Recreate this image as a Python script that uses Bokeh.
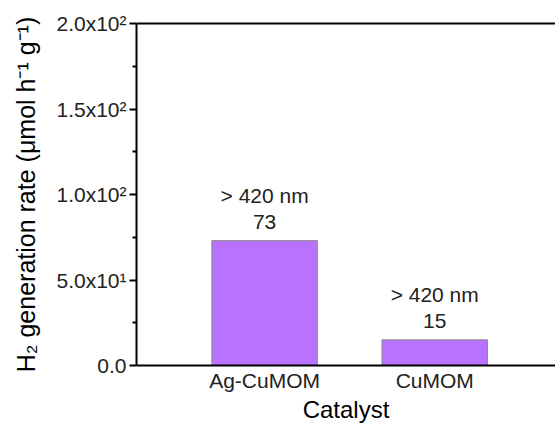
from bokeh.plotting import figure
from bokeh.models import Range1d, FixedTicker, LinearAxis, ColumnDataSource
from bokeh.embed import file_html
from bokeh.resources import INLINE
from bokeh.core.properties import value

# Data
catalysts = ["Ag-CuMOM", "CuMOM"]
rates = [73, 15]
rate_labels = ["73", "15"]
wavelength_labels = ["> 420 nm", "> 420 nm"]
y_ticks = [0, 50, 100, 150, 200]
y_minor_ticks = [25, 75, 125, 175]
y_tick_labels = ["0.0", "5.0x10\u00b9", "1.0x10\u00b2", "1.5x10\u00b2", "2.0x10\u00b2"]

x_pos = [i + 1 for i in range(len(catalysts))]
src = ColumnDataSource(dict(x=x_pos, top=rates, lab=rate_labels, wl=wavelength_labels))

FONT = "Liberation Sans"
p = figure(width=555, height=425, output_backend="svg", toolbar_location=None,
           x_range=Range1d(0.247, 2.71), y_range=Range1d(0, 200),
           min_border_left=136, min_border_top=23, min_border_bottom=59, min_border_right=0)
p.outline_line_color = None
p.grid.visible = False
p.background_fill_color = "white"

p.vbar(x="x", top="top", width=0.62, bottom=0, source=src,
       fill_color="#B872FD", line_color="#888888", line_width=1)

p.text(x="x", y="top", text="lab", source=src, y_offset=-19,
       text_align="center", text_baseline="middle",
       text_font=value(FONT), text_font_size="21px", text_color="#222222")
p.text(x="x", y="top", text="wl", source=src, y_offset=-45,
       text_align="center", text_baseline="middle",
       text_font=value(FONT), text_font_size="21px", text_color="#222222")

# y axis
ya = p.yaxis[0]
ya.ticker = FixedTicker(ticks=y_ticks, minor_ticks=y_minor_ticks)
ya.major_label_overrides = {t: l for t, l in zip(y_ticks, y_tick_labels)}
ya.axis_label = "H\u2082 generation rate (\u03bcmol h\u207b\u00b9 g\u207b\u00b9)"
ya.axis_label_text_font = FONT
ya.axis_label_text_font_style = "normal"
ya.axis_label_text_font_size = "25px"
ya.axis_label_text_color = "black"
ya.major_label_text_font = FONT
ya.major_label_text_font_size = "21px"
ya.major_label_text_color = "#222222"
ya.axis_line_width = 2
ya.major_tick_line_width = 2
ya.minor_tick_line_width = 2
ya.major_tick_out = 7
ya.major_tick_in = 0
ya.minor_tick_out = 4
ya.minor_tick_in = 0
ya.major_label_standoff = 3
ya.axis_label_standoff = 13

# x axis
xa = p.xaxis[0]
xa.ticker = FixedTicker(ticks=x_pos)
xa.major_label_overrides = {x: c for x, c in zip(x_pos, catalysts)}
xa.axis_label = "Catalyst"
xa.axis_label_text_font = FONT
xa.axis_label_text_font_style = "normal"
xa.axis_label_text_font_size = "24px"
xa.axis_label_text_color = "black"
xa.major_label_text_font = FONT
xa.major_label_text_font_size = "21px"
xa.major_label_text_color = "#222222"
xa.axis_line_width = 2
xa.major_tick_line_color = None
xa.minor_tick_line_color = None
xa.major_label_standoff = -3
xa.axis_label_standoff = 1

# top border line
top = LinearAxis(ticker=FixedTicker(ticks=[]), major_tick_line_color=None,
                 minor_tick_line_color=None, axis_line_width=2)
p.add_layout(top, "above")

open("out.html", "w").write(file_html(p, INLINE))
